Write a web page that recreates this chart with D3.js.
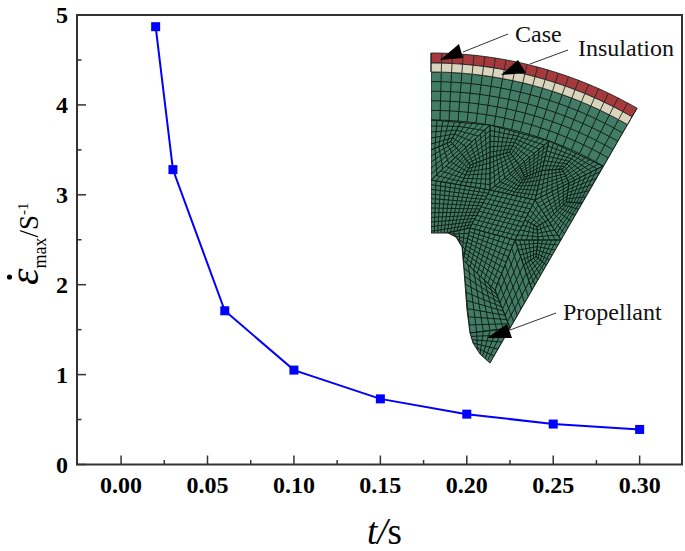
<!DOCTYPE html>
<html>
<head>
<meta charset="utf-8">
<script src="https://cdn.jsdelivr.net/npm/d3@7/dist/d3.min.js"></script>
<style>
	html, body { margin: 0; padding: 0; background: #fff; }
	text { font-family: "Liberation Serif", serif; fill: #000; }
	.tick-label { font-size: 24px; font-weight: bold; }
	.callout { font-size: 24px; fill: #111; }
</style>
</head>
<body>
<script>
var timeValues = [0.02, 0.03, 0.06, 0.10, 0.15, 0.20, 0.25, 0.30];
var strainRates = [4.87, 3.28, 1.71, 1.05, 0.73, 0.56, 0.45, 0.39];
var xMajorTicks = [0, 0.05, 0.10, 0.15, 0.20, 0.25, 0.30];
var xMinorTicks = [0.025, 0.075, 0.125, 0.175, 0.225, 0.275];
var yMajorTicks = [0, 1, 2, 3, 4, 5];
var yMinorTicks = [0.5, 1.5, 2.5, 3.5, 4.5];

// inset, sector around a common centre, radius in px and angle in degrees from vertical
var sectorCentre = [431, 465];
var caseRadii = [412, 402];
var insulationRadii = [402, 393];
var bandRadii = [393, 345];
var sectorAngle = 30;
var sectorCells = 20;
var bandRows = 5;

var propellantNotch = [[431, 233], [448, 233], [456, 237], [462, 247], [464, 270], [467, 310], [470, 333], [473, 343], [480, 354], [490, 363]];

// paved parts of the mesh: each triangle is split into three quads
var meshTriangles = [
	{c: [[431, 120], [490, 125], [431, 180]], n: 5},
	{c: [[490, 125], [490, 190], [431, 180]], n: 6},
	{c: [[490, 125], [549, 141], [490, 190]], n: 6},
	{c: [[549, 141], [535, 200], [490, 190]], n: 6},
	{c: [[549, 141], [603, 166], [535, 200]], n: 6},
	{c: [[603, 166], [561, 240], [535, 200]], n: 6},
	{c: [[535, 200], [561, 240], [515, 240]], n: 4},
	{c: [[561, 240], [532, 290], [515, 240]], n: 5}
];

// mapped parts of the mesh: four corners, then cell counts along each direction
var meshBlocks = [
	{c: [[431, 180], [490, 190], [470, 228], [431, 236]], nu: 12, nv: 12},
	{c: [[490, 190], [535, 200], [515, 240], [470, 228]], nu: 10, nv: 9},
	{c: [[470, 228], [515, 240], [495, 290], [463, 260]], nu: 9, nv: 9},
	{c: [[448, 233], [470, 228], [463, 260], [458, 240]], nu: 4, nv: 6},
	{c: [[515, 240], [532, 290], [510, 328], [495, 290]], nu: 6, nv: 6},
	{c: [[463, 260], [495, 290], [510, 328], [470, 333]], nu: 6, nv: 9},
	{c: [[470, 333], [510, 328], [490, 363], [475, 350]], nu: 6, nv: 5}
];

var callouts = [
	{label: 'Case', x: 515, y: 42, line: [[508, 34], [463, 52]], head: [[440, 60], [459, 44], [463, 58]]},
	{label: 'Insulation', x: 578, y: 56, line: [[568, 50], [530, 64]], head: [[501, 75], [518, 60], [526, 73]]},
	{label: 'Propellant', x: 563, y: 320, line: [[556, 313], [510, 330]], head: [[487, 338], [507, 324], [512, 338]]}
];

var width = 685;
var height = 551;
var frame = {left: 77, right: 682, top: 15, bottom: 464.5};

var x = d3.scaleLinear().domain([-0.0255, 0.3245]).range([frame.left, frame.right]);
var y = d3.scaleLinear().domain([0, 5]).range([frame.bottom, frame.top]);

var svg = d3.select('body').append('svg')
	.attr('width', width)
	.attr('height', height)
	.style('display', 'block');

function polar(r, deg) {
	var a = deg * Math.PI / 180;
	return [sectorCentre[0] + r * Math.sin(a), sectorCentre[1] - r * Math.cos(a)];
}

function arcPoints(r, from, to) {
	return d3.range(0, 41).map(function(i) {
		return polar(r, from + (to - from) * i / 40);
	});
}

function ringPath(r0, r1) {
	return d3.line()(arcPoints(r0, 0, sectorAngle).concat(arcPoints(r1, sectorAngle, 0))) + 'Z';
}

function bilinear(c, u, v) {
	return [
		(1-u)*(1-v)*c[0][0] + u*(1-v)*c[1][0] + u*v*c[2][0] + (1-u)*v*c[3][0],
		(1-u)*(1-v)*c[0][1] + u*(1-v)*c[1][1] + u*v*c[2][1] + (1-u)*v*c[3][1]
	];
}

function blockLines(b) {
	var lines = [];
	d3.range(0, b.nu + 1).forEach(function(i) {
		lines.push([bilinear(b.c, i / b.nu, 0), bilinear(b.c, i / b.nu, 1)]);
	});
	d3.range(0, b.nv + 1).forEach(function(j) {
		lines.push([bilinear(b.c, 0, j / b.nv), bilinear(b.c, 1, j / b.nv)]);
	});
	return lines;
}

function mid(a, b) {
	return [(a[0] + b[0]) / 2, (a[1] + b[1]) / 2];
}

function triangleBlocks(t) {
	var g = [
		(t.c[0][0] + t.c[1][0] + t.c[2][0]) / 3,
		(t.c[0][1] + t.c[1][1] + t.c[2][1]) / 3
	];
	return d3.range(0, 3).map(function(i) {
		var a = t.c[i], b = t.c[(i + 1) % 3], z = t.c[(i + 2) % 3];
		return {c: [a, mid(a, b), g, mid(a, z)], nu: t.n, nv: t.n};
	});
}

/* inset */
var inset = svg.append('g').attr('class', 'inset');
var outlinePoints = arcPoints(bandRadii[0], 0, sectorAngle).concat(propellantNotch.slice().reverse());
var outlinePath = d3.line()(outlinePoints) + 'Z';

svg.append('clipPath').attr('id', 'propellant-clip')
	.append('path').attr('d', outlinePath);

inset.append('path')
	.attr('d', outlinePath)
	.attr('fill', '#437c66');

var meshGroup = inset.append('g')
	.attr('clip-path', 'url(#propellant-clip)')
	.attr('fill', 'none')
	.attr('stroke', '#10201a')
	.attr('stroke-width', 1);

var allBlocks = meshBlocks.concat(d3.merge(meshTriangles.map(triangleBlocks)));

allBlocks.forEach(function(b) {
	meshGroup.selectAll(null)
		.data(blockLines(b))
		.enter().append('path')
		.attr('d', d3.line());
});

// regular band under the insulation
var bandLines = [];
d3.range(0, bandRows + 1).forEach(function(i) {
	var r = bandRadii[0] + (bandRadii[1] - bandRadii[0]) * i / bandRows;
	bandLines.push(arcPoints(r, 0, sectorAngle));
});
d3.range(0, sectorCells + 1).forEach(function(i) {
	var a = sectorAngle * i / sectorCells;
	bandLines.push([polar(bandRadii[0], a), polar(bandRadii[1], a)]);
});
meshGroup.selectAll(null)
	.data(bandLines)
	.enter().append('path')
	.attr('d', d3.line());

[
	{radii: caseRadii, fill: '#a5393c'},
	{radii: insulationRadii, fill: '#d9d5bd'}
].forEach(function(layer) {
	inset.append('path')
		.attr('d', ringPath(layer.radii[0], layer.radii[1]))
		.attr('fill', layer.fill)
		.attr('stroke', '#222')
		.attr('stroke-width', 0.9);
	inset.selectAll(null)
		.data(d3.range(0, sectorCells + 1))
		.enter().append('path')
		.attr('d', function(i) {
			var a = sectorAngle * i / sectorCells;
			return d3.line()([polar(layer.radii[0], a), polar(layer.radii[1], a)]);
		})
		.attr('stroke', '#222')
		.attr('stroke-width', 0.9);
});

inset.append('path')
	.attr('d', d3.line()(propellantNotch.concat([polar(bandRadii[0], sectorAngle)])))
	.attr('fill', 'none')
	.attr('stroke', '#222')
	.attr('stroke-width', 1);

/* callouts */
callouts.forEach(function(c) {
	svg.append('path')
		.attr('d', d3.line()(c.line))
		.attr('stroke', '#333')
		.attr('stroke-width', 1);
	svg.append('path')
		.attr('d', d3.line()(c.head) + 'Z')
		.attr('fill', '#000');
	svg.append('text')
		.attr('class', 'callout')
		.attr('x', c.x)
		.attr('y', c.y)
		.text(c.label);
});

/* frame and ticks */
svg.append('rect')
	.attr('x', frame.left)
	.attr('y', frame.top)
	.attr('width', frame.right - frame.left)
	.attr('height', frame.bottom - frame.top)
	.attr('fill', 'none')
	.attr('stroke', '#333')
	.attr('stroke-width', 2);

function xTicks(values, size) {
	svg.selectAll(null)
		.data(values)
		.enter().append('line')
		.attr('x1', x).attr('x2', x)
		.attr('y1', frame.bottom)
		.attr('y2', frame.bottom - size)
		.attr('stroke', '#333')
		.attr('stroke-width', 1.5);
}

function yTicks(values, size) {
	svg.selectAll(null)
		.data(values)
		.enter().append('line')
		.attr('y1', y).attr('y2', y)
		.attr('x1', frame.left)
		.attr('x2', frame.left + size)
		.attr('stroke', '#333')
		.attr('stroke-width', 1.5);
}

xTicks(xMajorTicks, 9);
xTicks(xMinorTicks, 4.5);
yTicks(yMajorTicks, 9);
yTicks(yMinorTicks, 4.5);

svg.selectAll(null)
	.data(xMajorTicks)
	.enter().append('text')
	.attr('class', 'tick-label')
	.attr('x', x)
	.attr('y', 493)
	.attr('text-anchor', 'middle')
	.text(function(d) { return d.toFixed(2); });

svg.selectAll(null)
	.data(yMajorTicks)
	.enter().append('text')
	.attr('class', 'tick-label')
	.attr('x', 68)
	.attr('y', function(d) { return y(d) + 8; })
	.attr('text-anchor', 'end')
	.text(function(d) { return d; });

/* series */
var points = timeValues.map(function(t, i) { return [x(t), y(strainRates[i])]; });

svg.append('path')
	.attr('d', d3.line()(points))
	.attr('fill', 'none')
	.attr('stroke', '#0000ff')
	.attr('stroke-width', 2);

svg.selectAll(null)
	.data(points)
	.enter().append('rect')
	.attr('x', function(d) { return d[0] - 4.5; })
	.attr('y', function(d) { return d[1] - 4.5; })
	.attr('width', 9)
	.attr('height', 9)
	.attr('fill', '#0000ff');

/* axis titles */
var xTitle = svg.append('text')
	.attr('x', 367)
	.attr('y', 544)
	.style('font-size', '37px');
xTitle.append('tspan').style('font-style', 'italic').text('t');
xTitle.append('tspan').style('font-style', 'italic').text('/');
xTitle.append('tspan').text('s');

var yTitle = svg.append('text')
	.attr('transform', 'translate(38,285) rotate(-90)')
	.style('font-size', '27px');
yTitle.append('tspan').style('font-style', 'italic').style('font-size', '42px').text('ε');
yTitle.append('tspan').attr('dy', 8).style('font-size', '18px').text('max');
yTitle.append('tspan').attr('dy', -8).text('/S');
yTitle.append('tspan').attr('dy', -10).style('font-size', '15px').text('-1');

svg.append('circle')
	.attr('cx', 9.5)
	.attr('cy', 277)
	.attr('r', 2.6)
	.attr('fill', '#000');
</script>
</body>
</html>
